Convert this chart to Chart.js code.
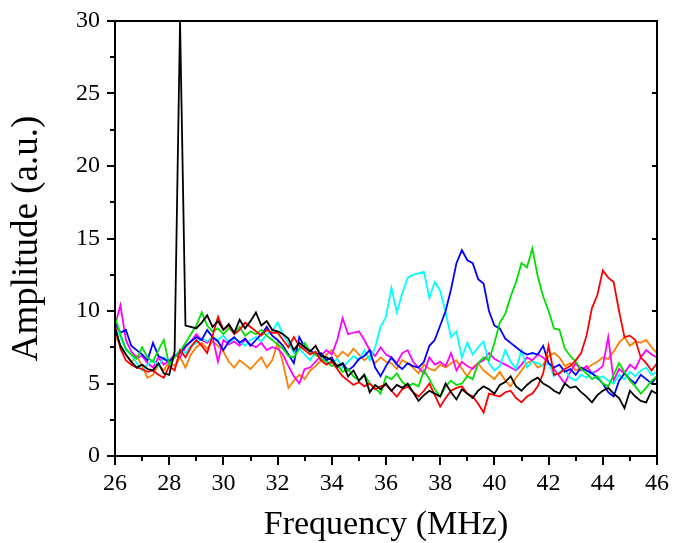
<!DOCTYPE html>
<html>
<head>
<meta charset="utf-8">
<script src="https://cdn.jsdelivr.net/npm/chart.js@4.4.1/dist/chart.umd.min.js"></script>
<style>
  html, body { margin: 0; padding: 0; background: #fff; }
  #wrap { width: 673px; height: 543px; }
</style>
</head>
<body>
<div id="wrap"><canvas id="chart" width="673" height="543"></canvas></div>
<script>
"use strict";

// Frequency grid (MHz)
var freq = [
  26.0, 26.2, 26.4, 26.6, 26.8, 27.0, 27.2, 27.4, 27.6, 27.8,
  28.0, 28.2, 28.4, 28.6, 28.8, 29.0, 29.2, 29.4, 29.6, 29.8,
  30.0, 30.2, 30.4, 30.6, 30.8, 31.0, 31.2, 31.4, 31.6, 31.8,
  32.0, 32.2, 32.4, 32.6, 32.8, 33.0, 33.2, 33.4, 33.6, 33.8,
  34.0, 34.2, 34.4, 34.6, 34.8, 35.0, 35.2, 35.4, 35.6, 35.8,
  36.0, 36.2, 36.4, 36.6, 36.8, 37.0, 37.2, 37.4, 37.6, 37.8,
  38.0, 38.2, 38.4, 38.6, 38.8, 39.0, 39.2, 39.4, 39.6, 39.8,
  40.0, 40.2, 40.4, 40.6, 40.8, 41.0, 41.2, 41.4, 41.6, 41.8,
  42.0, 42.2, 42.4, 42.6, 42.8, 43.0, 43.2, 43.4, 43.6, 43.8,
  44.0, 44.2, 44.4, 44.6, 44.8, 45.0, 45.2, 45.4, 45.6, 45.8,
  46.0
];

// Amplitude traces (a.u.)
var black = [
  8.8, 7.6, 7.0, 6.5, 6.1, 6.3, 6.0, 5.9, 6.4, 5.7,
  5.6, 7.2, 30, 9.0, 8.9, 8.8, 9.2, 9.7, 8.9, 9.3,
  8.7, 9.1, 8.5, 9.4, 8.8, 9.3, 9.9, 9.0, 9.3, 8.7,
  8.6, 8.4, 8.1, 7.3, 7.8, 7.5, 7.2, 7.6, 6.9, 6.8,
  6.6, 6.2, 6.4, 5.5, 5.9, 5.2, 5.6, 4.4, 4.9, 4.6,
  5.0, 4.5, 4.9, 4.7, 5.0, 4.4, 3.8, 4.2, 4.5, 4.3,
  4.1, 5.0, 4.4, 3.9, 4.6, 4.3, 4.0, 4.5, 4.8, 4.6,
  4.3, 4.9, 5.1, 5.5, 4.8, 4.5, 4.9, 5.2, 5.4, 5.0,
  4.8, 4.5, 4.3, 5.0, 4.7, 4.8, 4.4, 4.1, 3.7, 4.2,
  4.5, 4.7, 4.3, 4.0, 3.3, 4.5, 4.1, 3.8, 3.7, 4.5,
  4.3
];
var red = [
  9.0, 7.4, 6.6, 6.3, 6.1, 6.0, 5.8, 5.9, 5.6, 5.4,
  6.2, 5.9, 7.3, 6.8, 7.5, 8.0, 7.6, 7.1, 8.3, 9.6,
  8.7, 9.0, 8.4, 8.7, 9.2, 8.9, 8.6, 8.3, 8.7, 8.5,
  8.5, 8.0, 7.5, 8.2, 7.6, 7.3, 7.0, 7.2, 6.6, 6.3,
  6.5, 6.0, 5.5, 5.2, 4.9, 5.1, 4.8, 5.0, 4.6, 4.8,
  4.9, 4.5, 4.1, 4.6, 4.8, 4.4, 4.1, 4.5, 5.0, 4.2,
  3.4, 4.0, 4.5, 4.7, 4.8, 4.3, 4.1, 3.6, 3.0, 4.3,
  4.2, 4.1, 4.4, 4.5, 4.0, 3.7, 4.1, 4.3, 4.8, 5.7,
  7.6, 5.6, 5.7, 6.0, 6.2, 6.6, 7.1, 8.3, 10.2, 11.1,
  12.8, 12.3, 12.0, 10.0, 8.2, 8.3, 8.0, 6.8, 6.4, 5.9,
  6.4
];
var green = [
  9.6, 8.4, 7.4, 7.0, 6.7, 7.5, 6.8, 6.5, 7.3, 8.0,
  6.3, 6.8, 7.2, 7.8, 8.4, 9.0, 9.9, 9.0, 8.6, 8.8,
  8.4, 8.8, 8.5, 8.9, 8.3, 8.6, 8.4, 8.7, 8.3, 8.0,
  7.7, 7.4, 6.9, 6.8, 7.4, 7.8, 7.2, 7.0, 6.7, 6.5,
  6.2, 6.3, 5.8, 6.0, 5.5, 5.2, 5.6, 5.0, 4.7, 4.3,
  5.5, 5.3, 5.7, 5.1, 4.8, 5.0, 4.8, 5.9, 5.3, 4.6,
  4.1, 4.8, 5.2, 4.9, 5.0, 5.5, 5.3, 6.4, 6.8, 6.6,
  7.8, 9.2, 9.8, 11.0, 12.0, 13.3, 13.0, 14.3, 12.4, 11.0,
  10.0, 8.8, 8.7, 7.4, 6.9, 6.5, 6.0, 5.7, 5.3, 5.5,
  5.0, 4.8, 5.6, 6.4, 5.8, 5.2, 4.8, 4.3, 4.7, 5.2,
  5.5
];
var blue = [
  9.2, 8.5, 8.7, 7.6, 7.3, 7.0, 6.6, 7.8, 6.9, 6.7,
  6.5, 6.9, 7.1, 7.6, 7.9, 8.2, 8.0, 8.7, 8.2, 7.9,
  7.3, 7.9, 8.2, 7.8, 8.1, 7.6, 8.0, 8.4, 8.9, 8.3,
  8.0, 7.6, 7.0, 6.4, 8.2, 7.5, 7.3, 7.0, 7.1, 6.6,
  6.8, 6.1, 6.4, 5.9, 6.2, 6.7, 6.9, 7.3, 6.1, 5.5,
  6.2, 6.8, 6.3, 6.0, 6.4, 6.2, 6.1, 6.5, 7.6, 8.0,
  9.0, 10.0, 11.5, 13.3, 14.2, 13.5, 13.3, 12.2, 11.9, 10.0,
  9.0, 8.8, 8.1, 7.8, 7.5, 7.2, 7.0, 7.1, 7.0, 7.6,
  6.4, 6.1, 6.3, 5.8, 6.0, 5.6, 6.1, 5.9, 5.7, 5.4,
  5.0, 4.4, 4.1, 5.2, 5.7, 5.3, 5.0, 5.6, 5.3, 5.0,
  5.5
];
var cyan = [
  9.0, 8.2, 7.3, 7.0, 6.4, 5.9, 6.3, 6.6, 6.2, 6.8,
  6.5, 6.9, 7.3, 7.1, 7.6, 7.8, 8.1, 7.9, 8.2, 8.0,
  8.3, 7.8, 8.1, 7.9, 7.6, 8.0, 8.2, 7.9, 8.4, 8.6,
  9.2, 8.4, 7.8, 7.1, 7.4, 7.0, 6.6, 7.2, 6.8, 6.5,
  6.4, 6.7, 6.1, 6.5, 6.9, 6.6, 7.3, 6.6, 7.5, 8.9,
  9.6, 11.6, 9.9, 11.2, 12.3, 12.5, 12.6, 12.7, 10.9, 12.0,
  11.4, 9.9, 8.2, 8.6, 6.8, 7.8, 7.0, 7.5, 7.9, 6.4,
  5.9, 6.2, 7.3, 6.5, 6.0, 7.3, 6.1, 6.5, 6.4, 6.2,
  6.4, 5.5, 5.8, 6.0, 5.4, 5.2, 5.6, 5.4, 5.8, 5.3,
  5.5, 5.2, 5.0, 5.6, 5.3, 5.8, 5.5, 5.9, 6.1, 5.6,
  5.8
];
var magenta = [
  9.0, 10.4, 8.0, 7.2, 6.8, 6.9, 6.4, 6.1, 6.8, 6.3,
  6.6, 7.0, 6.8, 7.5, 7.9, 8.4, 8.0, 7.8, 8.2, 6.5,
  8.0, 7.7, 7.9, 7.6, 8.0, 7.7, 7.5, 7.8, 7.3, 7.5,
  7.4, 7.0, 6.2, 5.5, 5.0, 6.0, 6.1, 6.5, 6.9, 7.3,
  7.0, 8.0, 9.5, 8.4, 8.5, 8.6, 8.0, 7.3, 6.9, 7.5,
  7.0, 6.8, 6.4, 7.1, 7.3, 6.5, 6.1, 5.7, 6.8, 6.3,
  6.5, 6.2, 7.1, 5.9, 6.5, 6.2, 6.0, 6.4, 6.6, 7.1,
  6.7, 6.5, 6.3, 6.1, 5.9, 6.3, 6.8, 6.6, 7.0, 6.8,
  6.4, 6.0, 5.5, 5.0, 5.8, 6.4, 5.9, 6.2, 5.7, 5.9,
  6.2, 8.2, 5.2, 6.0, 5.7, 6.3, 6.0, 6.8, 7.3, 7.0,
  6.8
];
var orange = [
  8.3, 7.6, 7.0, 6.5, 6.9, 6.2, 5.4, 5.6, 6.3, 5.9,
  6.5, 6.2, 6.8, 6.1, 7.0, 7.5, 7.8, 7.4, 7.9, 7.6,
  7.2, 6.5, 6.1, 6.6, 6.3, 6.0, 6.4, 6.8, 6.1, 6.6,
  7.8, 6.4, 4.7, 5.2, 5.6, 5.3, 5.9, 6.2, 6.6, 7.0,
  7.3, 6.8, 7.2, 6.9, 7.4, 7.0, 6.6, 6.9, 6.4, 6.8,
  6.5, 6.4, 6.0, 6.6, 6.4, 6.1, 5.7, 6.3, 6.0, 5.9,
  6.3, 6.1, 6.4, 6.6, 6.0, 5.5, 6.1, 6.4, 5.9, 5.6,
  5.3, 5.8, 5.2, 4.8, 5.4, 5.9, 6.4, 6.6, 6.1, 6.3,
  6.9, 7.1, 6.8, 6.2, 6.4, 5.9, 6.1, 6.0, 6.3, 6.5,
  6.8, 6.7, 7.2, 7.8, 8.2, 7.6, 7.9, 7.8, 8.0, 7.5,
  7.1
];

var xTicks = [26, 28, 30, 32, 34, 36, 38, 40, 42, 44, 46];
var yTicks = [0, 5, 10, 15, 20, 25, 30];

var serif = "'Liberation Serif', 'Times New Roman', serif";

function pts(vals) {
  return freq.map(function (f, i) { return { x: f, y: vals[i] }; });
}

function line(vals, color) {
  return {
    data: pts(vals),
    borderColor: color,
    borderWidth: 1.8,
    pointRadius: 0,
    tension: 0,
    fill: false
  };
}

// Frame and tick marks (major outward, minor shorter)
var frame = {
  id: 'frame',
  afterDraw: function (chart) {
    var ctx = chart.ctx, a = chart.chartArea;
    var sx = chart.scales.x, sy = chart.scales.y;
    ctx.save();
    ctx.strokeStyle = '#000';
    ctx.lineWidth = 2;
    ctx.strokeRect(a.left, a.top, a.right - a.left, a.bottom - a.top);
    ctx.beginPath();
    for (var v = 26; v <= 46; v += 1) {
      var px = Math.round(sx.getPixelForValue(v));
      var len = (v % 2 === 0) ? 9 : 5;
      ctx.moveTo(px, a.bottom);
      ctx.lineTo(px, a.bottom + len);
    }
    for (var w = 0; w <= 30; w += 2.5) {
      var py = Math.round(sy.getPixelForValue(w));
      var l2 = (w % 5 === 0) ? 8 : 5;
      ctx.moveTo(a.left, py);
      ctx.lineTo(a.left - l2, py);
      if (w % 5 === 0 && w > 0 && w < 30) {
        ctx.moveTo(a.right, py);
        ctx.lineTo(a.right - 5, py);
      }
    }
    ctx.stroke();
    ctx.restore();
  }
};

new Chart(document.getElementById('chart').getContext('2d'), {
  type: 'line',
  data: {
    datasets: [
      line(black, '#000000'),
      line(red, '#ff0000'),
      line(green, '#00e000'),
      line(blue, '#0000ff'),
      line(cyan, '#00ffff'),
      line(magenta, '#ff00ff'),
      line(orange, '#ff8000')
    ]
  },
  options: {
    responsive: false,
    animation: false,
    events: [],
    layout: { padding: { left: 0, top: 21, right: 16, bottom: 0 } },
    plugins: { legend: { display: false }, tooltip: { enabled: false } },
    scales: {
      x: {
        type: 'linear',
        min: 26,
        max: 46,
        afterBuildTicks: function (s) { s.ticks = xTicks.map(function (v) { return { value: v }; }); },
        afterFit: function (s) { s.height = 87; },
        grid: { drawOnChartArea: false, drawTicks: true, tickLength: 9, color: 'rgba(0,0,0,0)', tickColor: 'rgba(0,0,0,0)' },
        border: { display: false },
        ticks: { color: '#000', padding: 4, maxRotation: 0, font: { family: serif, size: 24 } },
        title: {
          display: true,
          text: 'Frequency (MHz)',
          color: '#000',
          padding: { top: 0, bottom: 1 },
          font: { family: serif, size: 34, lineHeight: 1 }
        }
      },
      y: {
        type: 'linear',
        min: 0,
        max: 30,
        afterBuildTicks: function (s) { s.ticks = yTicks.map(function (v) { return { value: v }; }); },
        afterFit: function (s) { s.width = 115; },
        grid: { drawOnChartArea: false, drawTicks: true, tickLength: 9, color: 'rgba(0,0,0,0)', tickColor: 'rgba(0,0,0,0)' },
        border: { display: false },
        ticks: { color: '#000', padding: 6, font: { family: serif, size: 24 } },
        title: {
          display: true,
          text: 'Amplitude (a.u.)',
          color: '#000',
          padding: { top: 9, bottom: 0 },
          font: { family: serif, size: 37, lineHeight: 1 }
        }
      }
    }
  },
  plugins: [frame]
});
</script>
</body>
</html>
